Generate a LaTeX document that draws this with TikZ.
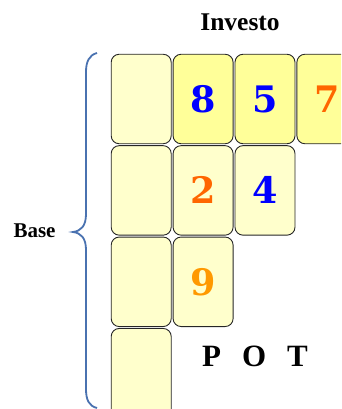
\documentclass[tikz,border=0pt]{standalone}
\usepackage{fontspec}
\setmainfont{Liberation Serif}
\newfontfamily\digitfont{DejaVu Serif}
\usepackage{tikz}
\usetikzlibrary{positioning}
\definecolor{cellpale}{HTML}{FFFFCC}
\definecolor{cellhot}{HTML}{FFFF99}
\definecolor{digblue}{HTML}{0000FF}
\definecolor{digred}{HTML}{FF6600}
\definecolor{digorange}{HTML}{FF9900}
\definecolor{bracecol}{HTML}{4A72B0}

\begin{document}
\begin{tikzpicture}[
    x=1pt, y=-1pt,
    node distance=1pt and 1pt,
    cell/.style={rectangle, rounded corners=8pt, draw=black!85, line width=0.9pt, fill=cellpale, minimum width=60pt, minimum height=89.5pt, inner sep=0pt, font=\digitfont\fontsize{36.5}{40}\selectfont\bfseries},
    hot/.style={cell, fill=cellhot},
    lbl/.style={anchor=base, font=\bfseries}
]
\useasboundingbox (0,0) rectangle (341,409);
\clip (0,0) rectangle (341,409);

% staircase of cells
\node[cell] (c00) at (141.2,99) {};
\node[hot, right=of c00, text=digblue] (c01) {8};
\node[hot, right=of c01, text=digblue] (c02) {5};
\node[hot, right=of c02, text=digred] (c03) {7};

\node[cell, below=of c00] (c10) {};
\node[cell, right=of c10, text=digred] (c11) {2};
\node[cell, right=of c11, text=digblue] (c12) {4};

\node[cell, below=of c10] (c20) {};
\node[cell, right=of c20, text=digorange] (c21) {9};

\node[cell, below=of c20] (c30) {};

% labels
\node[lbl, font=\fontsize{25.5}{28}\selectfont\bfseries] (investo) at (240,31) {Investo};
\node[lbl, font=\fontsize{21}{24}\selectfont\bfseries] (base) at (34.5,237) {Base};
\node[lbl, font=\fontsize{31}{34}\selectfont\bfseries] (pot) at (255,366.7) {P\hspace{0.68em}O\hspace{0.68em}T};

% brace
\draw[bracecol, line width=1.8pt] (97,53) .. controls (89,55) and (86,62) .. (86,72) -- (86,214)
    .. controls (86,226) and (81,231) .. (73,232) .. controls (81,233) and (86,238) .. (86,250)
    -- (86,389) .. controls (86,400) and (89,406) .. (97,408);
\end{tikzpicture}
\end{document}
